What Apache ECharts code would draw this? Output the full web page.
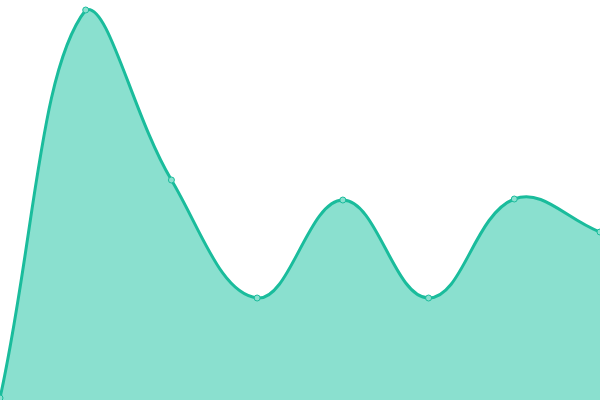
<!DOCTYPE html>
<html><head><meta charset="utf-8">
<script src="https://cdn.jsdelivr.net/npm/echarts@6/dist/echarts.min.js"></script>
<style>html,body{margin:0;padding:0;background:#fff}#c{width:600px;height:400px}</style>
</head><body><div id="c"></div>
<script>
var categories = ['A','B','C','D','E','F','G','H'];
var values = [0.2, 39, 22, 10.2, 20, 10.2, 20.1, 16.8];
var TENSION = 0.4;

function splinePath(pts, area) {
  var n = pts.length, cps = [];
  for (var i = 0; i < n; i++) {
    var p = pts[i], prev = pts[i - 1] || p, next = pts[i + 1] || p;
    var d01 = Math.hypot(p[0] - prev[0], p[1] - prev[1]);
    var d12 = Math.hypot(next[0] - p[0], next[1] - p[1]);
    var s01 = d01 / (d01 + d12), s12 = d12 / (d01 + d12);
    if (!isFinite(s01)) s01 = 0;
    if (!isFinite(s12)) s12 = 0;
    var fa = TENSION * s01, fb = TENSION * s12;
    var dx = next[0] - prev[0], dy = next[1] - prev[1];
    var c0 = [p[0] - fa * dx, p[1] - fa * dy];
    var c1 = [p[0] + fb * dx, p[1] + fb * dy];
    [c0, c1].forEach(function (c) {
      c[0] = Math.min(Math.max(c[0], area.x), area.x + area.width);
      c[1] = Math.min(Math.max(c[1], area.y), area.y + area.height);
    });
    cps.push({ prev: c0, next: c1 });
  }
  var d = 'M' + pts[0][0] + ',' + pts[0][1];
  for (var j = 1; j < n; j++) {
    var a = cps[j - 1].next, b = cps[j].prev, e = pts[j];
    d += ' C' + a[0] + ',' + a[1] + ' ' + b[0] + ',' + b[1] + ' ' + e[0] + ',' + e[1];
  }
  return d;
}

var chart = echarts.init(document.getElementById('c'));
chart.setOption({
  animation: false,
  grid: {left: 0, right: 0, top: 0, bottom: 0},
  xAxis: {type: 'category', data: categories, boundaryGap: false, show: false},
  yAxis: {type: 'value', min: 0, max: 40, show: false},
  series: [{
    type: 'custom',
    data: values.map(function (v, i) { return [i, v]; }),
    encode: {x: 0, y: 1},
    z: 2,
    renderItem: function (params, api) {
      if (params.dataIndex !== 0) return null;
      var pts = values.map(function (v, i) { return api.coord([i, v]); });
      var area = params.coordSys;
      var line = splinePath(pts, area);
      var base = api.coord([0, 0])[1];
      var fill = line + ' L' + pts[pts.length - 1][0] + ',' + base + ' L' + pts[0][0] + ',' + base + ' Z';
      return {
        type: 'group',
        children: [
          {type: 'path', shape: {pathData: fill}, style: {fill: '#8ae0cf', stroke: null}},
          {type: 'path', shape: {pathData: line}, style: {fill: null, stroke: '#1abc9c', lineWidth: 3, lineJoin: 'round'}}
        ]
      };
    }
  }, {
    type: 'scatter',
    data: values,
    z: 3,
    symbol: 'circle',
    symbolSize: 6,
    itemStyle: {color: '#8ae0cf', borderColor: '#1abc9c', borderWidth: 1, opacity: 1}
  }]
});
</script></body></html>
